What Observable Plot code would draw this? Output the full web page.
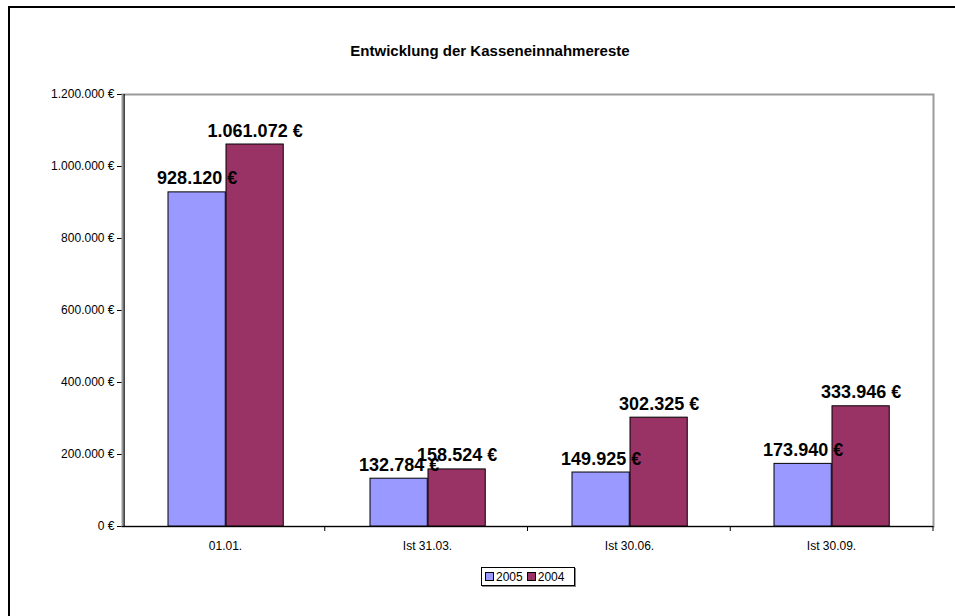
<!DOCTYPE html>
<html>
<head>
<meta charset="utf-8">
<script src="https://cdn.jsdelivr.net/npm/d3@7"></script>
<script src="https://cdn.jsdelivr.net/npm/@observablehq/plot@0.6"></script>
<style>
  html, body { margin: 0; padding: 0; background: #fff; }
  body { font-family: Arial, "Liberation Sans", sans-serif; }
  #wrap { position: relative; width: 955px; height: 616px; overflow: hidden; }
  #border { position: absolute; left: 8px; top: 6px; width: 2000px; height: 2000px; border-left: 2px solid #000; border-top: 2px solid #000; box-sizing: border-box; }
  #title { position: absolute; left: 0; width: 980px; top: 42px; text-align: center; font-size: 15px; font-weight: bold; color: #000; }
  #chart { position: absolute; left: 0; top: 0; }
  #legend { position: absolute; left: 481px; top: 567px; width: 92px; height: 17px; border: 1px solid #000; box-shadow: 1px 1px 0 #888; background: #fff; display: flex; align-items: center; font-size: 12px; }
  .item { display: flex; align-items: center; margin-left: 3px; margin-right: 1px; }
  .sw { width: 7px; height: 7px; border: 1px solid #000; margin-right: 2px; }
</style>
</head>
<body>
<div id="wrap">
  <div id="border"></div>
  <div id="chart"></div>
  <div id="title"></div>
  <div id="legend"></div>
</div>
<script>
const title = "Entwicklung der Kasseneinnahmereste";
const categories = ["01.01.", "Ist 31.03.", "Ist 30.06.", "Ist 30.09."];
const seriesNames = ["2005", "2004"];
const values2005 = [928120, 132784, 149925, 173940];
const values2004 = [1061072, 158524, 302325, 333946];
const yTicks = [0, 200000, 400000, 600000, 800000, 1000000, 1200000];
const colors = ["#9999FF", "#993366"];

const de = d3.formatLocale({decimal: ",", thousands: ".", grouping: [3], currency: ["", " €"]});
const fmt = de.format("$,.0f");

const data = [];
categories.forEach((c, i) => {
  data.push({cat: c, series: seriesNames[0], value: values2005[i]});
  data.push({cat: c, series: seriesNames[1], value: values2004[i]});
});
const d05 = data.filter(d => d.series === seriesNames[0]);
const d04 = data.filter(d => d.series === seriesNames[1]);

const W = 955, H = 616, mL = 122, mR = 22, mT = 94, mB = 90;
const bw = (W - mL - mR) / categories.length;
// bar placement within each band (pixel styling)
const leftStart = 44, barW = 58;

const boundaryTicks = (index, scales, values, dims) => {
  const g = d3.create("svg:g");
  const y0 = dims.height - dims.marginBottom;
  for (let i = 1; i <= categories.length; i++) {
    const x = dims.marginLeft + i * bw;
    g.append("line").attr("x1", x).attr("x2", x).attr("y1", y0).attr("y2", y0 + 5)
      .attr("stroke", "#000").attr("stroke-width", 1);
  }
  return g.node();
};

const plot = Plot.plot({
  width: W, height: H,
  marginLeft: mL, marginRight: mR, marginTop: mT, marginBottom: mB,
  style: {fontFamily: "Arial, 'Liberation Sans', sans-serif", fontSize: "12px", color: "#000", background: "transparent"},
  x: {domain: categories, padding: 0, label: null, tickSize: 0, tickPadding: 15},
  y: {domain: [0, 1200000], ticks: yTicks, tickFormat: fmt, tickSize: 5, tickPadding: 3, label: null},
  color: {domain: seriesNames, range: colors},
  marks: [
    Plot.frame({stroke: "#9a9a9a", strokeWidth: 2}),
    Plot.barY(d05, {x: "cat", y: "value", fill: "series", stroke: "#000", strokeWidth: 1,
      insetLeft: leftStart, insetRight: bw - leftStart - barW}),
    Plot.barY(d04, {x: "cat", y: "value", fill: "series", stroke: "#000", strokeWidth: 1,
      insetLeft: leftStart + barW, insetRight: bw - leftStart - 2 * barW}),
    Plot.ruleY([0], {stroke: "#000", strokeWidth: 1.2}),
    Plot.ruleX([categories[0]], {dx: -bw / 2, stroke: "#000", strokeWidth: 1.2}),
    boundaryTicks,
    Plot.text(d05, {x: "cat", y: "value", text: d => fmt(d.value), dx: leftStart + barW / 2 - bw / 2, dy: -8,
      lineAnchor: "bottom", textAnchor: "middle", fontSize: 18, fontWeight: "bold", fill: "#000"}),
    Plot.text(d04, {x: "cat", y: "value", text: d => fmt(d.value), dx: leftStart + 1.5 * barW - bw / 2, dy: -8,
      lineAnchor: "bottom", textAnchor: "middle", fontSize: 18, fontWeight: "bold", fill: "#000"})
  ]
});
document.getElementById("chart").appendChild(plot);
document.getElementById("title").textContent = title;

const legend = document.getElementById("legend");
seriesNames.forEach((s, i) => {
  const item = document.createElement("div");
  item.className = "item";
  const sw = document.createElement("div");
  sw.className = "sw";
  sw.style.background = colors[i];
  const t = document.createElement("span");
  t.textContent = s;
  item.appendChild(sw); item.appendChild(t);
  legend.appendChild(item);
});
</script>
</body>
</html>
